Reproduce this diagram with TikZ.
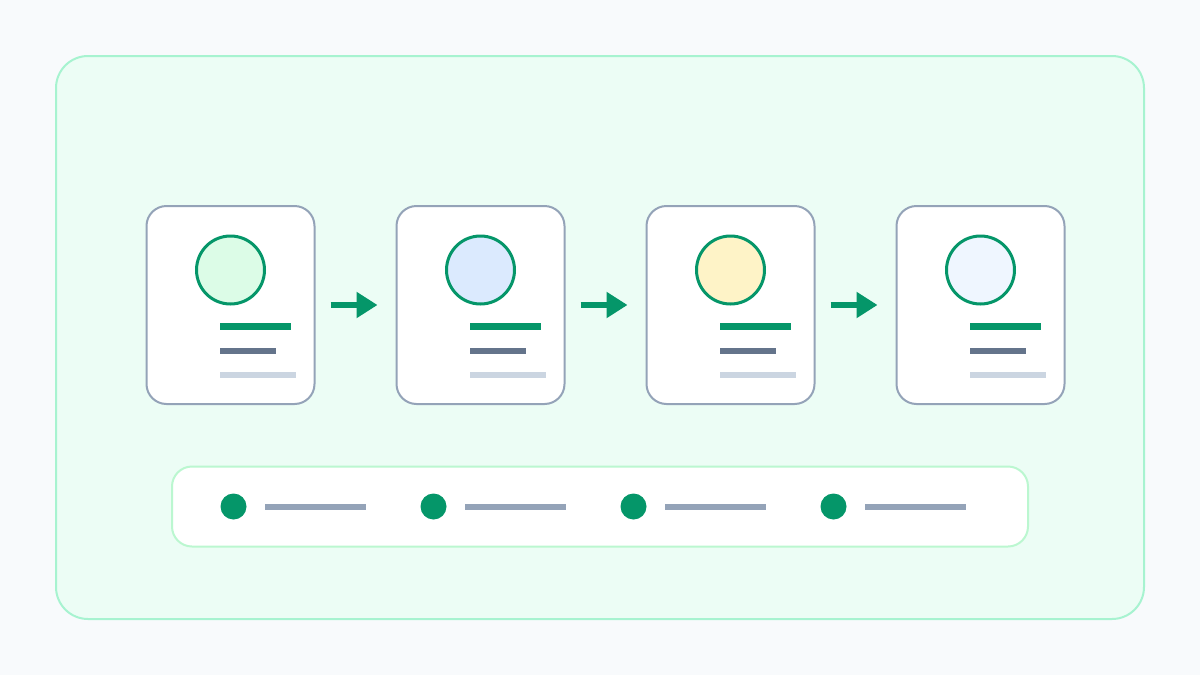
\documentclass[tikz,border=0pt]{standalone}
\usetikzlibrary{arrows.meta}
\definecolor{bgc}{HTML}{F8FAFC}
\definecolor{outerfill}{HTML}{ECFDF5}
\definecolor{outerline}{HTML}{A7F3D0}
\definecolor{cardline}{HTML}{94A3B8}
\definecolor{accent}{HTML}{059669}
\definecolor{barmid}{HTML}{64748B}
\definecolor{barlight}{HTML}{CBD5E1}
\definecolor{legline}{HTML}{BBF7D0}
\definecolor{cfa}{HTML}{DCFCE7}
\definecolor{cfb}{HTML}{DBEAFE}
\definecolor{cfc}{HTML}{FEF3C7}
\definecolor{cfd}{HTML}{EFF6FF}
\tikzset{
  panel/.style={draw=outerline, fill=outerfill, line width=2pt, rounded corners=32pt},
  cardbox/.style={draw=cardline, fill=white, line width=2pt, rounded corners=20pt,
    minimum width=168pt, minimum height=198pt, inner sep=0pt},
  avatar/.style={draw=accent, line width=3pt, circle, minimum size=68pt, inner sep=0pt},
  legbox/.style={draw=legline, fill=white, line width=2pt, rounded corners=20pt,
    minimum width=856pt, minimum height=80pt, inner sep=0pt},
  legdot/.style={fill=accent, circle, minimum size=26pt, inner sep=0pt},
  flow/.style={draw=accent, line width=6pt, -{Triangle[length=21pt,width=25pt]}},
}
\begin{document}
\begin{tikzpicture}[x=1pt,y=-1pt]
\fill[bgc] (0,0) rectangle (1200,675);
\useasboundingbox (0,0) rectangle (1200,675);
\draw[panel] (56,56) rectangle (1144,619);
\foreach \i/\c in {1/cfa,2/cfb,3/cfc,4/cfd}{
  \pgfmathsetmacro{\cx}{230.5+250*(\i-1)}
  \node[cardbox] (card\i) at (\cx,305) {};
  \node[avatar, fill=\c] (av\i) at (\cx,270) {};
  \fill[accent] (\cx-10.5,322.5) rectangle (\cx+60.5,329.5);
  \fill[barmid] (\cx-10.5,348) rectangle (\cx+45.5,354);
  \fill[barlight] (\cx-10.5,372) rectangle (\cx+65.5,378);
}
\foreach \a/\b in {1/2,2/3,3/4}{
  \draw[flow] ([xshift=15pt]card\a.east) -- ([xshift=-18pt]card\b.west);
}
\node[legbox] (legend) at (600,506.5) {};
\foreach \i in {1,2,3,4}{
  \pgfmathsetmacro{\dx}{233.5+200*(\i-1)}
  \node[legdot] (dot\i) at (\dx,506.5) {};
  \fill[cardline] (\dx+31.5,503.5) rectangle (\dx+132.5,509.5);
}
\end{tikzpicture}
\end{document}
